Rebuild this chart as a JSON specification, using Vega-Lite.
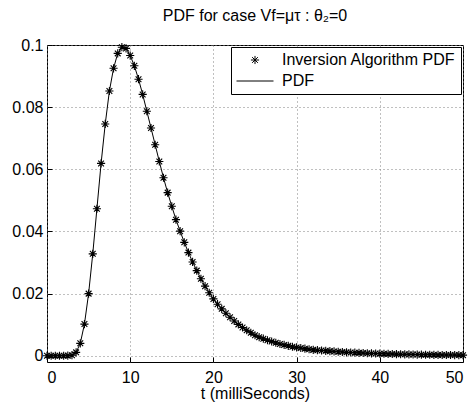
{
  "$schema": "https://vega.github.io/schema/vega-lite/v6.json",
  "width": 416,
  "height": 317,
  "autosize": {"type": "none"},
  "padding": {"left": 47, "top": 45, "right": 8, "bottom": 43},
  "background": "white",
  "title": {"text": "PDF for case Vf=μτ : θ₂=0", "fontSize": 16, "font": "Liberation Sans", "fontWeight": "normal", "offset": 13, "anchor": "middle", "color": "black"},
  "config": {
    "font": "Liberation Sans",
    "view": {"stroke": "black", "strokeWidth": 1},
    "axis": {
      "labelFont": "Liberation Sans",
      "labelFontSize": 16,
      "labelColor": "black",
      "titleFont": "Liberation Sans",
      "titleFontSize": 16,
      "titleFontWeight": "normal",
      "titleColor": "black",
      "grid": true,
      "gridColor": "#808080",
      "gridDash": [1, 3],
      "gridWidth": 1,
      "domain": false,
      "ticks": true,
      "tickColor": "black",
      "tickSize": -5,
      "labelPadding": 9
    },
    "axisX": {"labelPadding": 12}
  },
  "data": {
    "values": [
      {"t": 0, "inv": 0, "pdf": 0},
      {"t": 0.5, "inv": 0, "pdf": 0},
      {"t": 1, "inv": 0, "pdf": 0},
      {"t": 1.5, "inv": 0, "pdf": 0},
      {"t": 2, "inv": 0.00001, "pdf": 0.00001},
      {"t": 2.5, "inv": 0.00005, "pdf": 0.00005},
      {"t": 3, "inv": 0.0002, "pdf": 0.0002},
      {"t": 3.5, "inv": 0.0011, "pdf": 0.0011},
      {"t": 4, "inv": 0.004, "pdf": 0.004},
      {"t": 4.5, "inv": 0.0102, "pdf": 0.0102},
      {"t": 5, "inv": 0.02, "pdf": 0.02},
      {"t": 5.5, "inv": 0.0328, "pdf": 0.0328},
      {"t": 6, "inv": 0.0473, "pdf": 0.0473},
      {"t": 6.5, "inv": 0.0619, "pdf": 0.0619},
      {"t": 7, "inv": 0.0746, "pdf": 0.0746},
      {"t": 7.5, "inv": 0.0852, "pdf": 0.0852},
      {"t": 8, "inv": 0.0925, "pdf": 0.0925},
      {"t": 8.5, "inv": 0.0973, "pdf": 0.0973},
      {"t": 9, "inv": 0.0993, "pdf": 0.0993},
      {"t": 9.5, "inv": 0.0989, "pdf": 0.0989},
      {"t": 10, "inv": 0.0966, "pdf": 0.0966},
      {"t": 10.5, "inv": 0.0933, "pdf": 0.0933},
      {"t": 11, "inv": 0.089, "pdf": 0.089},
      {"t": 11.5, "inv": 0.0841, "pdf": 0.0841},
      {"t": 12, "inv": 0.0787, "pdf": 0.0787},
      {"t": 12.5, "inv": 0.0733, "pdf": 0.0733},
      {"t": 13, "inv": 0.0679, "pdf": 0.0679},
      {"t": 13.5, "inv": 0.0625, "pdf": 0.0625},
      {"t": 14, "inv": 0.0573, "pdf": 0.0573},
      {"t": 14.5, "inv": 0.0525, "pdf": 0.0525},
      {"t": 15, "inv": 0.0481, "pdf": 0.0481},
      {"t": 15.5, "inv": 0.0438, "pdf": 0.0438},
      {"t": 16, "inv": 0.0401, "pdf": 0.0401},
      {"t": 16.5, "inv": 0.0365, "pdf": 0.0365},
      {"t": 17, "inv": 0.0332, "pdf": 0.0332},
      {"t": 17.5, "inv": 0.0302, "pdf": 0.0302},
      {"t": 18, "inv": 0.0274, "pdf": 0.0274},
      {"t": 18.5, "inv": 0.0248, "pdf": 0.0248},
      {"t": 19, "inv": 0.0224, "pdf": 0.0224},
      {"t": 19.5, "inv": 0.0203, "pdf": 0.0203},
      {"t": 20, "inv": 0.0183, "pdf": 0.0183},
      {"t": 20.5, "inv": 0.0166, "pdf": 0.0166},
      {"t": 21, "inv": 0.0151, "pdf": 0.0151},
      {"t": 21.5, "inv": 0.0137, "pdf": 0.0137},
      {"t": 22, "inv": 0.0124, "pdf": 0.0124},
      {"t": 22.5, "inv": 0.0112, "pdf": 0.0112},
      {"t": 23, "inv": 0.0101, "pdf": 0.0101},
      {"t": 23.5, "inv": 0.0091, "pdf": 0.0091},
      {"t": 24, "inv": 0.0082, "pdf": 0.0082},
      {"t": 24.5, "inv": 0.0074, "pdf": 0.0074},
      {"t": 25, "inv": 0.0066, "pdf": 0.0066},
      {"t": 25.5, "inv": 0.006, "pdf": 0.006},
      {"t": 26, "inv": 0.0055, "pdf": 0.0055},
      {"t": 26.5, "inv": 0.005, "pdf": 0.005},
      {"t": 27, "inv": 0.0046, "pdf": 0.0046},
      {"t": 27.5, "inv": 0.0042, "pdf": 0.0042},
      {"t": 28, "inv": 0.0038, "pdf": 0.0038},
      {"t": 28.5, "inv": 0.0035, "pdf": 0.0035},
      {"t": 29, "inv": 0.0032, "pdf": 0.0032},
      {"t": 29.5, "inv": 0.0029, "pdf": 0.0029},
      {"t": 30, "inv": 0.0027, "pdf": 0.0027},
      {"t": 30.5, "inv": 0.0025, "pdf": 0.0025},
      {"t": 31, "inv": 0.0023, "pdf": 0.0023},
      {"t": 31.5, "inv": 0.0021, "pdf": 0.0021},
      {"t": 32, "inv": 0.0019, "pdf": 0.0019},
      {"t": 32.5, "inv": 0.0018, "pdf": 0.0018},
      {"t": 33, "inv": 0.0017, "pdf": 0.0017},
      {"t": 33.5, "inv": 0.0016, "pdf": 0.0016},
      {"t": 34, "inv": 0.0015, "pdf": 0.0015},
      {"t": 34.5, "inv": 0.0014, "pdf": 0.0014},
      {"t": 35, "inv": 0.0013, "pdf": 0.0013},
      {"t": 35.5, "inv": 0.0012, "pdf": 0.0012},
      {"t": 36, "inv": 0.0011, "pdf": 0.0011},
      {"t": 36.5, "inv": 0.00105, "pdf": 0.00105},
      {"t": 37, "inv": 0.001, "pdf": 0.001},
      {"t": 37.5, "inv": 0.00094, "pdf": 0.00094},
      {"t": 38, "inv": 0.00088, "pdf": 0.00088},
      {"t": 38.5, "inv": 0.00082, "pdf": 0.00082},
      {"t": 39, "inv": 0.00077, "pdf": 0.00077},
      {"t": 39.5, "inv": 0.00072, "pdf": 0.00072},
      {"t": 40, "inv": 0.00068, "pdf": 0.00068},
      {"t": 40.5, "inv": 0.00064, "pdf": 0.00064},
      {"t": 41, "inv": 0.0006, "pdf": 0.0006},
      {"t": 41.5, "inv": 0.00056, "pdf": 0.00056},
      {"t": 42, "inv": 0.00053, "pdf": 0.00053},
      {"t": 42.5, "inv": 0.0005, "pdf": 0.0005},
      {"t": 43, "inv": 0.00047, "pdf": 0.00047},
      {"t": 43.5, "inv": 0.00044, "pdf": 0.00044},
      {"t": 44, "inv": 0.00041, "pdf": 0.00041},
      {"t": 44.5, "inv": 0.00039, "pdf": 0.00039},
      {"t": 45, "inv": 0.00037, "pdf": 0.00037},
      {"t": 45.5, "inv": 0.00035, "pdf": 0.00035},
      {"t": 46, "inv": 0.00033, "pdf": 0.00033},
      {"t": 46.5, "inv": 0.00031, "pdf": 0.00031},
      {"t": 47, "inv": 0.00029, "pdf": 0.00029},
      {"t": 47.5, "inv": 0.00027, "pdf": 0.00027},
      {"t": 48, "inv": 0.00026, "pdf": 0.00026},
      {"t": 48.5, "inv": 0.00024, "pdf": 0.00024},
      {"t": 49, "inv": 0.00023, "pdf": 0.00023},
      {"t": 49.5, "inv": 0.00022, "pdf": 0.00022},
      {"t": 50, "inv": 0.00021, "pdf": 0.00021}
    ]
  },
  "encoding": {
    "x": {
      "field": "t",
      "type": "quantitative",
      "scale": {"domain": [0, 50], "nice": false, "zero": false},
      "axis": {"values": [0, 10, 20, 30, 40, 50], "title": "t (milliSeconds)", "titlePadding": 0}
    }
  },
  "layer": [
    {
      "mark": {"type": "line", "color": "black", "strokeWidth": 1, "clip": true},
      "encoding": {
        "y": {
          "field": "pdf",
          "type": "quantitative",
          "scale": {"domain": [-0.002, 0.1], "nice": false, "zero": false},
          "axis": {"values": [0, 0.02, 0.04, 0.06, 0.08, 0.1], "format": "~g", "title": null}
        }
      }
    },
    {
      "mark": {"type": "point", "filled": false, "color": "black", "strokeWidth": 1.1, "size": 1369, "opacity": 1},
      "encoding": {
        "y": {"field": "inv", "type": "quantitative", "axis": {"title": null}},
        "shape": {
          "datum": "Inversion Algorithm PDF",
          "scale": {
            "domain": ["Inversion Algorithm PDF", "PDF"],
            "range": ["M0,-0.22L0,0.22M-0.22,0L0.22,0M-0.155,-0.155L0.155,0.155M-0.155,0.155L0.155,-0.155", "stroke"]
          },
          "legend": {
            "title": null,
            "orient": "top-right",
            "offset": 2,
            "strokeColor": "black",
            "fillColor": "white",
            "padding": 5,
            "cornerRadius": 0,
            "labelFont": "Liberation Sans",
            "labelFontSize": 16,
            "labelColor": "black",
            "labelOffset": 8,
            "labelLimit": 400,
            "rowPadding": 5,
            "clipHeight": 16,
            "symbolSize": 1369,
            "symbolStrokeColor": "black",
            "symbolStrokeWidth": 1,
            "symbolFillColor": "transparent",
            "symbolOpacity": 1
          }
        }
      }
    }
  ]
}
